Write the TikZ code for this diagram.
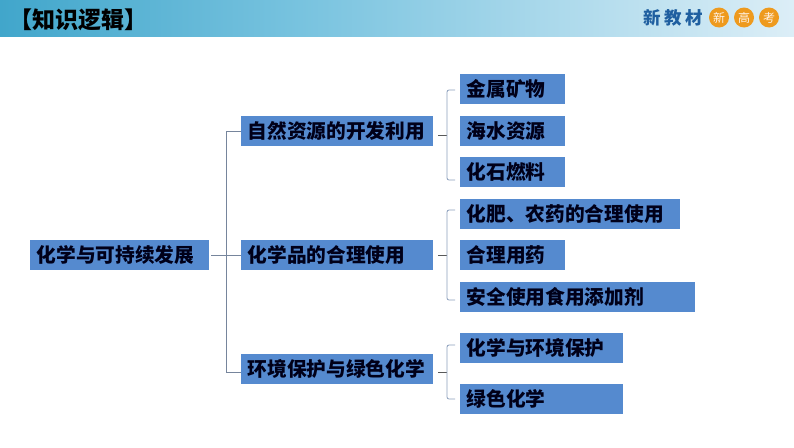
\documentclass[tikz,border=0pt]{standalone}
\usepackage{fontspec}
\setmainfont{Noto Sans CJK SC}[BoldFont={* Black}]
\usetikzlibrary{calc}
\definecolor{boxfill}{HTML}{558ACF}
\definecolor{trunkgray}{HTML}{76859C}
\definecolor{brk}{HTML}{8C9FBC}
\definecolor{bandA}{HTML}{41A6CB}
\definecolor{bandB}{HTML}{78C3DF}
\definecolor{bandC}{HTML}{DCEEF7}
\definecolor{logoblue}{HTML}{1F5FA0}
\definecolor{logoorange}{HTML}{EE9A1E}
\tikzset{
  boxnode/.style n args={1}{fill=boxfill,anchor=west,minimum height=30,inner xsep=6.5,inner ysep=0,
     text width=#1-13,align=left,font=\fontsize{19.7}{22}\selectfont\bfseries,text=black!90!blue},
  treeline/.style={trunkgray,line width=0.8},
  bracket/.style={brk,line width=0.8,rounded corners=2},
  stemline/.style={gray!70!black,line width=0.8},
  badge/.style={circle,fill=logoorange,minimum size=20,inner sep=0,text=white!90!orange,font=\fontsize{12}{12}\selectfont},
  headtext/.style={font=\fontsize{23}{26}\selectfont\bfseries,text=black,anchor=west,inner sep=0},
  logotext/.style={font=\fontsize{17.5}{20}\selectfont\bfseries,text=logoblue,inner sep=0}
}
\begin{document}
\begin{tikzpicture}[x=1pt,y=-1pt]
\useasboundingbox (0,0) rectangle (794,447);
\fill[white] (0,0) rectangle (794,447);
\fill[left color=bandA,right color=bandB] (0,0) rectangle (300,36);
\fill[left color=bandB,right color=bandC] (300,0) rectangle (794,36);
\node[headtext] (head) at (9,20) {【知识逻辑】};
\node[logotext] (l1) at (652,18) {新};
\node[logotext] (l2) at (673,18) {教};
\node[logotext] (l3) at (694,18) {材};
\node[badge] (b1) at (719,17.5) {新};
\node[badge] (b2) at (744,17.5) {高};
\node[badge] (b3) at (769,17.5) {考};

\node[boxnode=179] (root) at (30,255) {化学与可持续发展};
\node[boxnode=192] (m1) at (241,131) {自然资源的开发利用};
\node[boxnode=192] (m2) at (241,255) {化学品的合理使用};
\node[boxnode=192] (m3) at (241,369) {环境保护与绿色化学};
\node[boxnode=105] (a1) at (460,89) {金属矿物};
\node[boxnode=105] (a2) at (460,131) {海水资源};
\node[boxnode=105] (a3) at (460,172) {化石燃料};
\node[boxnode=220] (b1x) at (460,214) {化肥、农药的合理使用};
\node[boxnode=105] (b2x) at (460,255) {合理用药};
\node[boxnode=235] (b3x) at (460,297) {安全使用食用添加剂};
\node[boxnode=163] (c1) at (460,348) {化学与环境保护};
\node[boxnode=163] (c2) at (460,399) {绿色化学};

\coordinate (m3in) at ($(m3.west)+(0,3)$);
\draw[treeline] ($(root.east)+(2,0)$) -- (m2.west);
\draw[treeline] (m1.west) -- (226,131) -- (226,372) -- (m3in);

\draw[stemline] ($(m1.east)+(5,4)$) -- ($(m1.east)+(14,4)$);
\draw[stemline] ($(m2.east)+(5,0)$) -- ($(m2.east)+(14,0)$);
\draw[stemline] ($(m3.east)+(5,3)$) -- ($(m3.east)+(14,3)$);

\draw[bracket] ($(a1.west)+(-5,1)$) -- (447,90) -- (447,180) -- ($(a3.west)+(-5,8)$);
\draw[bracket] ($(b1x.west)+(-5,-4)$) -- (447,210) -- (447,300) -- ($(b3x.west)+(-5,3)$);
\draw[bracket] ($(c1.west)+(-5,-3)$) -- (447,345) -- (447,399) -- ($(c2.west)+(-5,0)$);
\end{tikzpicture}
\end{document}
